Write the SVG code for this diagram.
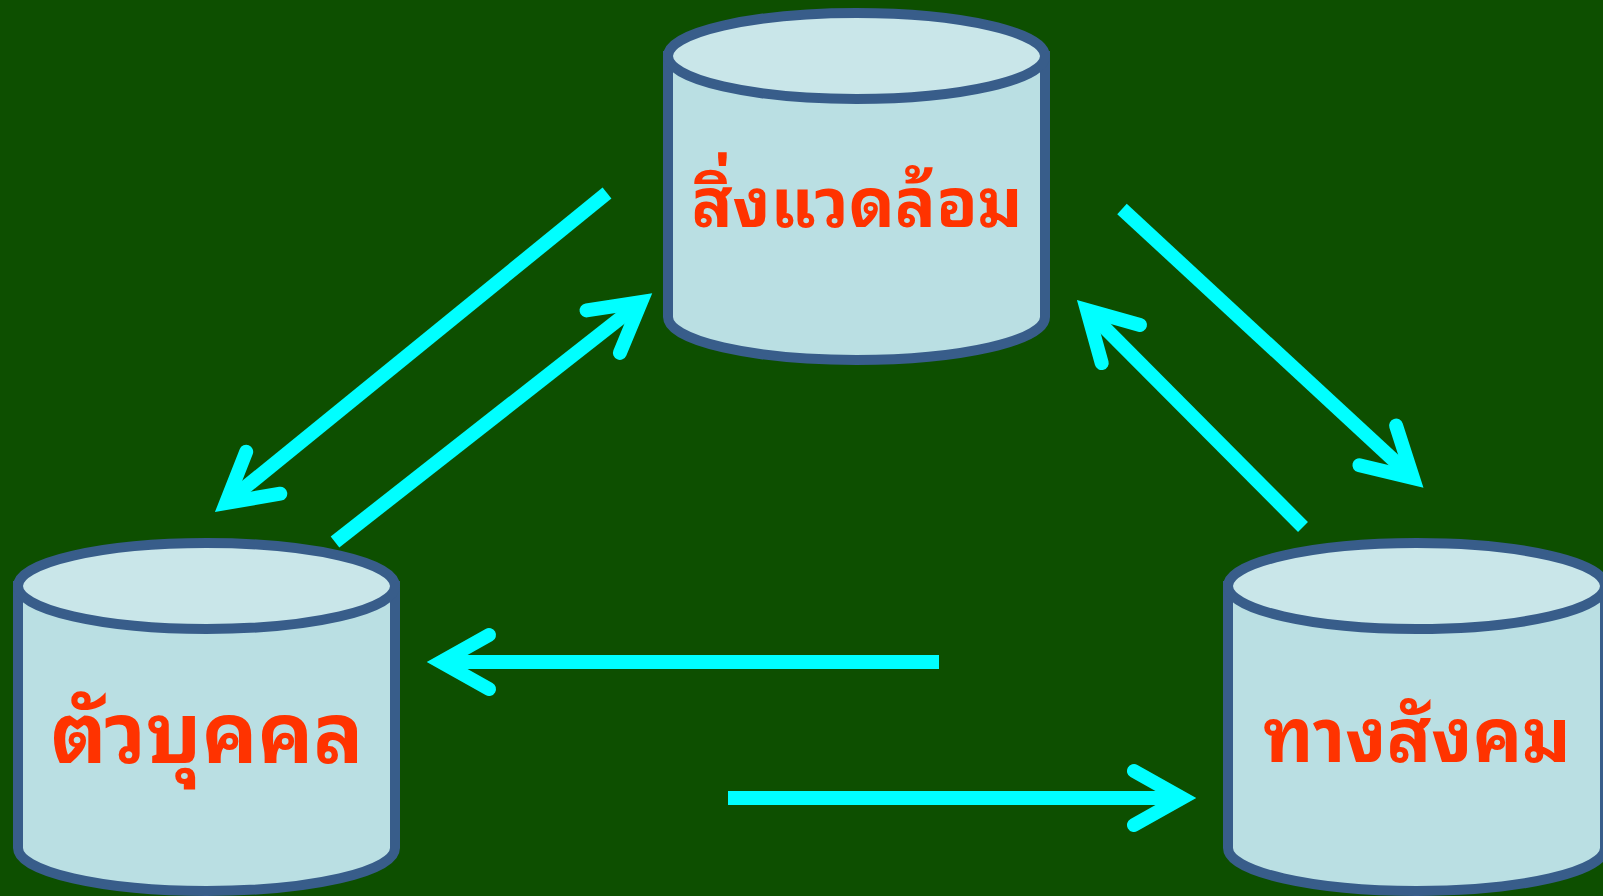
<svg xmlns="http://www.w3.org/2000/svg" width="1603" height="896" viewBox="0 0 1603 896">
<defs>
<style>
.body{fill:#BADFE3;stroke:#385D8A;stroke-width:10}
.top{fill:#C9E6E9;stroke:#385D8A;stroke-width:10}
.lbl{fill:#FF3300;font-family:"Noto Sans Thai Looped","Tahoma","Leelawadee UI","Loma","Noto Sans Thai","Noto Sans","DejaVu Sans",sans-serif;font-weight:bold;text-anchor:middle}
.arr{stroke:#00FFFF;stroke-width:14;fill:none;marker-end:url(#ah)}
</style>
<marker id="ah" markerUnits="userSpaceOnUse" orient="auto" markerWidth="120" markerHeight="120" viewBox="-60 -60 120 120" refX="0" refY="0" overflow="visible">
<path d="M-48,-27 L0,0 L-48,27" fill="none" stroke="#00FFFF" stroke-width="14" stroke-linecap="round" stroke-linejoin="miter" stroke-miterlimit="10"/>
</marker>
</defs>
<rect width="1603" height="896" fill="#0D4F00"/>
<g id="node-environment">
<path class="body" d="M668,56 L668,317 A188.5,43 0 0 0 1045,317 L1045,56 Z"/>
<ellipse class="top" cx="856.5" cy="56" rx="188.5" ry="43"/>
<text class="lbl" x="857" y="227" font-size="68">สิ่งแวดล้อม</text>
</g>
<g id="node-individual">
<path class="body" d="M18,586 L18,848 A188.5,43 0 0 0 395,848 L395,586 Z"/>
<ellipse class="top" cx="206.5" cy="586" rx="188.5" ry="43"/>
<text class="lbl" x="207" y="763" font-size="83">ตัวบุคคล</text>
</g>
<g id="node-social">
<path class="body" d="M1228,586 L1228,848 A188.5,43 0 0 0 1605,848 L1605,586 Z"/>
<ellipse class="top" cx="1416.5" cy="586" rx="188.5" ry="43"/>
<text class="lbl" x="1417" y="762" font-size="74">ทางสังคม</text>
</g>
<g id="connectors">
<line class="arr" x1="607" y1="193" x2="226" y2="503"/>
<line class="arr" x1="335" y1="542" x2="641" y2="302"/>
<line class="arr" x1="1122" y1="209" x2="1413" y2="478"/>
<line class="arr" x1="1303" y1="527" x2="1087" y2="310"/>
<line class="arr" x1="939" y1="662" x2="441" y2="662"/>
<line class="arr" x1="728" y1="798" x2="1182" y2="798"/>
</g>
</svg>
